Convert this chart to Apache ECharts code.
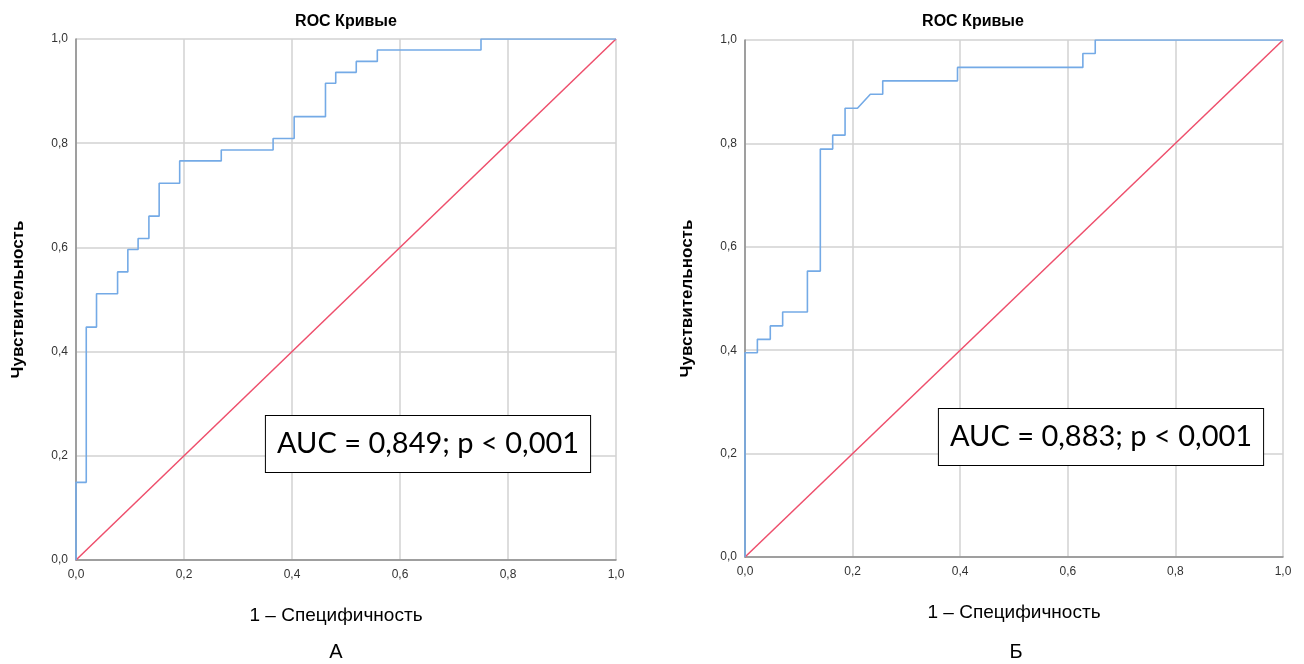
<!DOCTYPE html>
<html>
<head>
<meta charset="utf-8">
<script src="https://cdn.jsdelivr.net/npm/echarts@6/dist/echarts.min.js"></script>
<style>
  html, body { margin: 0; padding: 0; background: #fff; }
  #main { width: 1304px; height: 664px; }
</style>
</head>
<body>
<div id="main"></div>
<script>
// ROC А: [1 - специфичность, чувствительность]
var rocA = [
  [0, 0], [0, 0.149], [0.019, 0.149], [0.019, 0.447], [0.038, 0.447], [0.038, 0.511],
  [0.077, 0.511], [0.077, 0.553], [0.096, 0.553], [0.096, 0.596], [0.115, 0.596],
  [0.115, 0.617], [0.135, 0.617], [0.135, 0.660], [0.154, 0.660], [0.154, 0.723],
  [0.192, 0.723], [0.192, 0.766], [0.269, 0.766], [0.269, 0.787], [0.365, 0.787],
  [0.365, 0.809], [0.404, 0.809], [0.404, 0.851], [0.462, 0.851], [0.462, 0.915],
  [0.481, 0.915], [0.481, 0.936], [0.519, 0.936], [0.519, 0.957], [0.558, 0.957],
  [0.558, 0.979], [0.750, 0.979], [0.750, 1], [1, 1]
];
// ROC Б
var rocB = [
  [0, 0], [0, 0.395], [0.023, 0.395], [0.023, 0.421], [0.047, 0.421], [0.047, 0.447],
  [0.070, 0.447], [0.070, 0.474], [0.116, 0.474], [0.116, 0.553], [0.140, 0.553],
  [0.140, 0.789], [0.163, 0.789], [0.163, 0.816], [0.186, 0.816], [0.186, 0.868],
  [0.209, 0.868], [0.233, 0.895], [0.256, 0.895], [0.256, 0.921], [0.395, 0.921],
  [0.395, 0.947], [0.628, 0.947], [0.628, 0.974], [0.651, 0.974], [0.651, 1], [1, 1]
];
var diagonal = [[0, 0], [1, 1]];
var aucLabels = ['AUC = 0,849; p < 0,001', 'AUC = 0,883; p < 0,001'];
var panelLabels = ['А', 'Б'];
var chartTitle = 'ROC Кривые';
var xName = '1 – Специфичность';
var yName = 'Чувствительность';

var chartDom = document.getElementById('main');
var myChart = echarts.init(chartDom);

var fmt = function (v) { return v.toFixed(1).replace('.', ','); };

function makeX(i, shift) {
  return {
    type: 'value', gridIndex: i, min: 0, max: 1, interval: 0.2,
    name: xName, nameLocation: 'middle', nameGap: 46,
    nameTextStyle: { fontSize: 19, color: '#000', fontFamily: 'Liberation Sans', padding: [0, shift, 0, 0] },
    axisLine: { lineStyle: { color: '#8a8a8a', width: 1.5 } },
    axisTick: { show: false },
    axisLabel: { formatter: fmt, fontSize: 12, color: '#333', margin: 9, fontFamily: 'Liberation Sans' },
    splitLine: { lineStyle: { color: '#d2d2d2', width: 1.5 } }
  };
}
function makeY(i) {
  return {
    type: 'value', gridIndex: i, min: 0, max: 1, interval: 0.2,
    name: yName, nameLocation: 'middle', nameGap: 49, nameRotate: 90,
    nameTextStyle: { fontSize: 17, fontWeight: 'bold', color: '#000', fontFamily: 'Liberation Sans' },
    axisLine: { lineStyle: { color: '#8a8a8a', width: 1.5 } },
    axisTick: { show: false },
    axisLabel: { formatter: fmt, fontSize: 12, color: '#333', margin: 8, fontFamily: 'Liberation Sans' },
    splitLine: { lineStyle: { color: '#d2d2d2', width: 1.5 } }
  };
}
function rocSeries(data, i) {
  return {
    type: 'line', xAxisIndex: i, yAxisIndex: i, data: data,
    symbol: 'none', animation: false,
    lineStyle: { color: '#74aae6', width: 1.6 }
  };
}
function diagSeries(i) {
  return {
    type: 'line', xAxisIndex: i, yAxisIndex: i, data: diagonal,
    symbol: 'none', animation: false,
    lineStyle: { color: '#ee4f6c', width: 1.5 }
  };
}
function textEl(x, y, txt, size, weight) {
  return {
    type: 'text', x: x, y: y,
    style: { text: txt, fontSize: size, fontWeight: weight || 'normal', fill: '#000',
      fontFamily: 'Liberation Sans', align: 'center', verticalAlign: 'middle' }
  };
}
function boxEl(x, y, txt) {
  return {
    type: 'text', x: x, y: y, z: 10,
    style: { text: txt, fontSize: 29, fill: '#000', fontFamily: 'Lato',
      align: 'center', verticalAlign: 'middle',
      backgroundColor: '#fff', borderColor: '#000', borderWidth: 1,
      padding: [15, 11, 12, 11] }
  };
}

var option = {
  backgroundColor: '#fff',
  grid: [
    { left: 76, top: 39, width: 540, height: 521 },
    { left: 745, top: 40, width: 538, height: 517 }
  ],
  xAxis: [makeX(0, 20), makeX(1, 0)],
  yAxis: [makeY(0), makeY(1)],
  series: [diagSeries(0), rocSeries(rocA, 0), diagSeries(1), rocSeries(rocB, 1)],
  graphic: [
    textEl(346, 22, chartTitle, 16, 'bold'),
    textEl(973, 22, chartTitle, 16, 'bold'),
    textEl(336, 652, panelLabels[0], 20),
    textEl(1016, 652, panelLabels[1], 20),
    boxEl(428, 444, aucLabels[0]),
    boxEl(1101, 437, aucLabels[1])
  ]
};

option && myChart.setOption(option);
</script>
</body>
</html>
